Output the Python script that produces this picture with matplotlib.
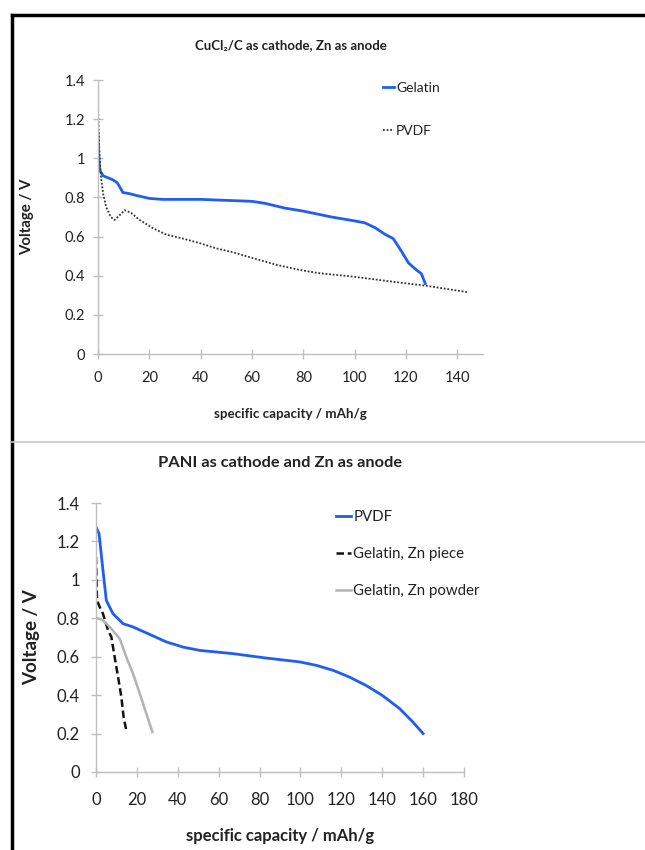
import matplotlib
matplotlib.use("Agg")
import matplotlib.pyplot as plt
from matplotlib.lines import Line2D

plt.rcParams['font.family'] = ['Lato', 'DejaVu Sans']

# ---- Top chart data (CuCl2/C cathode, Zn anode) ----
top_gel_x = [0, 0.3, 0.65, 2, 4, 5.8, 7.5, 8.4, 9.7, 12, 15, 20, 25, 30, 40, 50, 60, 65, 73, 80, 91, 100, 104, 108, 112, 115, 118, 121, 124, 126, 127.5]
top_gel_y = [1.13, 1.02, 0.94, 0.91, 0.90, 0.89, 0.875, 0.855, 0.825, 0.82, 0.81, 0.795, 0.79, 0.79, 0.79, 0.785, 0.78, 0.77, 0.745, 0.73, 0.70, 0.68, 0.67, 0.645, 0.61, 0.59, 0.53, 0.465, 0.43, 0.41, 0.36]
top_pvdf_x = [0, 0.3, 0.6, 1.2, 2, 3.2, 5, 6.5, 8.5, 10.4, 13, 16.2, 21.4, 26.6, 33, 39.5, 46, 52.5, 60.3, 69.4, 78.4, 86, 99, 112, 127.7, 144.5]
top_pvdf_y = [1.28, 1.12, 1.01, 0.9, 0.82, 0.75, 0.70, 0.685, 0.71, 0.735, 0.72, 0.685, 0.643, 0.61, 0.59, 0.567, 0.54, 0.52, 0.49, 0.456, 0.43, 0.413, 0.396, 0.374, 0.349, 0.315]

# ---- Bottom chart data (PANI cathode, Zn anode) ----
bot_pvdf_x = [0, 1.5, 3.4, 5.05, 8.3, 13.2, 18.1, 26.3, 34.4, 42.6, 50.7, 67, 83.3, 99.6, 107.8, 116, 124, 132, 140, 148.5, 155, 160]
bot_pvdf_y = [1.275, 1.24, 1.05, 0.893, 0.824, 0.772, 0.755, 0.716, 0.677, 0.65, 0.633, 0.616, 0.593, 0.573, 0.555, 0.529, 0.494, 0.451, 0.399, 0.33, 0.26, 0.2]
bot_piece_x = [0, 0.5, 1.8, 3.4, 5.9, 7.5, 9.1, 10.8, 12.4, 13.5, 14.8]
bot_piece_y = [1.12, 0.893, 0.859, 0.824, 0.737, 0.703, 0.6, 0.494, 0.39, 0.286, 0.217]
bot_powder_x = [0, 3.4, 6.7, 11.6, 14.8, 18.1, 21.4, 24.6, 27.6]
bot_powder_y = [0.803, 0.79, 0.755, 0.694, 0.599, 0.512, 0.408, 0.304, 0.208]

top_xticks = [0, 20, 40, 60, 80, 100, 120, 140]
bot_xticks = [0, 20, 40, 60, 80, 100, 120, 140, 160, 180]
yticks = [0, 0.2, 0.4, 0.6, 0.8, 1.0, 1.2, 1.4]
ytick_labels = ['0', '0.2', '0.4', '0.6', '0.8', '1', '1.2', '1.4']

BLUE = '#1F5EF0'
AXC = '#BFBFBF'
TXT = '#222222'

fig = plt.figure(figsize=(6.45, 8.5), dpi=100)
W, H = 645, 850

def px_axes(x0, x1, y_top, y_bot):
    return fig.add_axes([x0 / W, 1 - y_bot / H, (x1 - x0) / W, (y_bot - y_top) / H])

def style(ax, fs, xpad, ypad):
    for s in ['top', 'right']:
        ax.spines[s].set_visible(False)
    for s in ['left', 'bottom']:
        ax.spines[s].set_color(AXC)
        ax.spines[s].set_linewidth(1.0)
    ax.tick_params(direction='inout', length=7, width=1.0, color=AXC,
                   labelsize=fs, labelcolor=TXT)
    ax.tick_params(axis='x', pad=xpad)
    ax.tick_params(axis='y', pad=ypad)
    ax.set_yticks(yticks)
    ax.set_yticklabels(ytick_labels)
    ax.set_ylim(0, 1.4)

# ---- top axes ----
ax1 = px_axes(98, 483, 80, 354)
ax1.plot(top_gel_x, top_gel_y, color=BLUE, lw=2.0, label='Gelatin')
ax1.plot(top_pvdf_x, top_pvdf_y, color='#333333', lw=1.3, ls=(0, (1, 1)), label='PVDF')
style(ax1, 10.5, 9, 6)
ax1.set_xlim(0, 150)
ax1.set_xticks(top_xticks)
ax1.set_title('CuCl\u2082/C as cathode, Zn as anode', fontsize=9.5, fontweight='bold',
              color=TXT, pad=22)
ax1.set_xlabel('specific capacity / mAh/g', fontsize=9.6, fontweight='bold', color=TXT, labelpad=16)
ax1.set_ylabel('Voltage / V', fontsize=10.8, fontweight='bold', color=TXT, labelpad=22)
ax1.legend(loc='upper left', bbox_to_anchor=(383 / W, 1 - 82 / H), bbox_transform=fig.transFigure,
           frameon=False, handlelength=0.8, handletextpad=0.15, labelspacing=2.2,
           fontsize=10, labelcolor=TXT, borderaxespad=0, borderpad=0)

# ---- bottom axes ----
ax2 = px_axes(96, 464, 503, 772)
ax2.plot(bot_pvdf_x, bot_pvdf_y, color=BLUE, lw=2.0, label='PVDF')
ax2.plot(bot_piece_x, bot_piece_y, color='#111111', lw=1.8, ls=(0, (3, 1.5)), label='Gelatin, Zn piece')
ax2.plot(bot_powder_x, bot_powder_y, color='#B3B3B3', lw=1.8, label='Gelatin, Zn powder')
style(ax2, 12, 11, 8)
ax2.set_xlim(0, 180)
ax2.set_xticks(bot_xticks)
ax2.set_title('PANI as cathode and Zn as anode', fontsize=11.8, fontweight='bold',
              color=TXT, pad=26)
ax2.set_xlabel('specific capacity / mAh/g', fontsize=12, fontweight='bold', color=TXT, labelpad=14)
ax2.set_ylabel('Voltage / V', fontsize=13.5, fontweight='bold', color=TXT, labelpad=12)
ax2.legend(loc='upper left', bbox_to_anchor=(336 / W, 1 - 510 / H), bbox_transform=fig.transFigure,
           frameon=False, handlelength=1.0, handletextpad=0.15, labelspacing=1.55,
           fontsize=10.8, labelcolor=TXT, borderaxespad=0, borderpad=0)

# ---- frame lines ----
fig.add_artist(Line2D([12 / W, 12 / W], [0, 1 - 15 / H], transform=fig.transFigure, color='black', lw=2.5))
fig.add_artist(Line2D([12 / W, 1], [1 - 15 / H, 1 - 15 / H], transform=fig.transFigure, color='black', lw=2.5))
fig.add_artist(Line2D([12 / W, 1], [1 - 442 / H, 1 - 442 / H], transform=fig.transFigure, color='#C8C8C8', lw=1.2))

fig.savefig('out.png', dpi=100)
